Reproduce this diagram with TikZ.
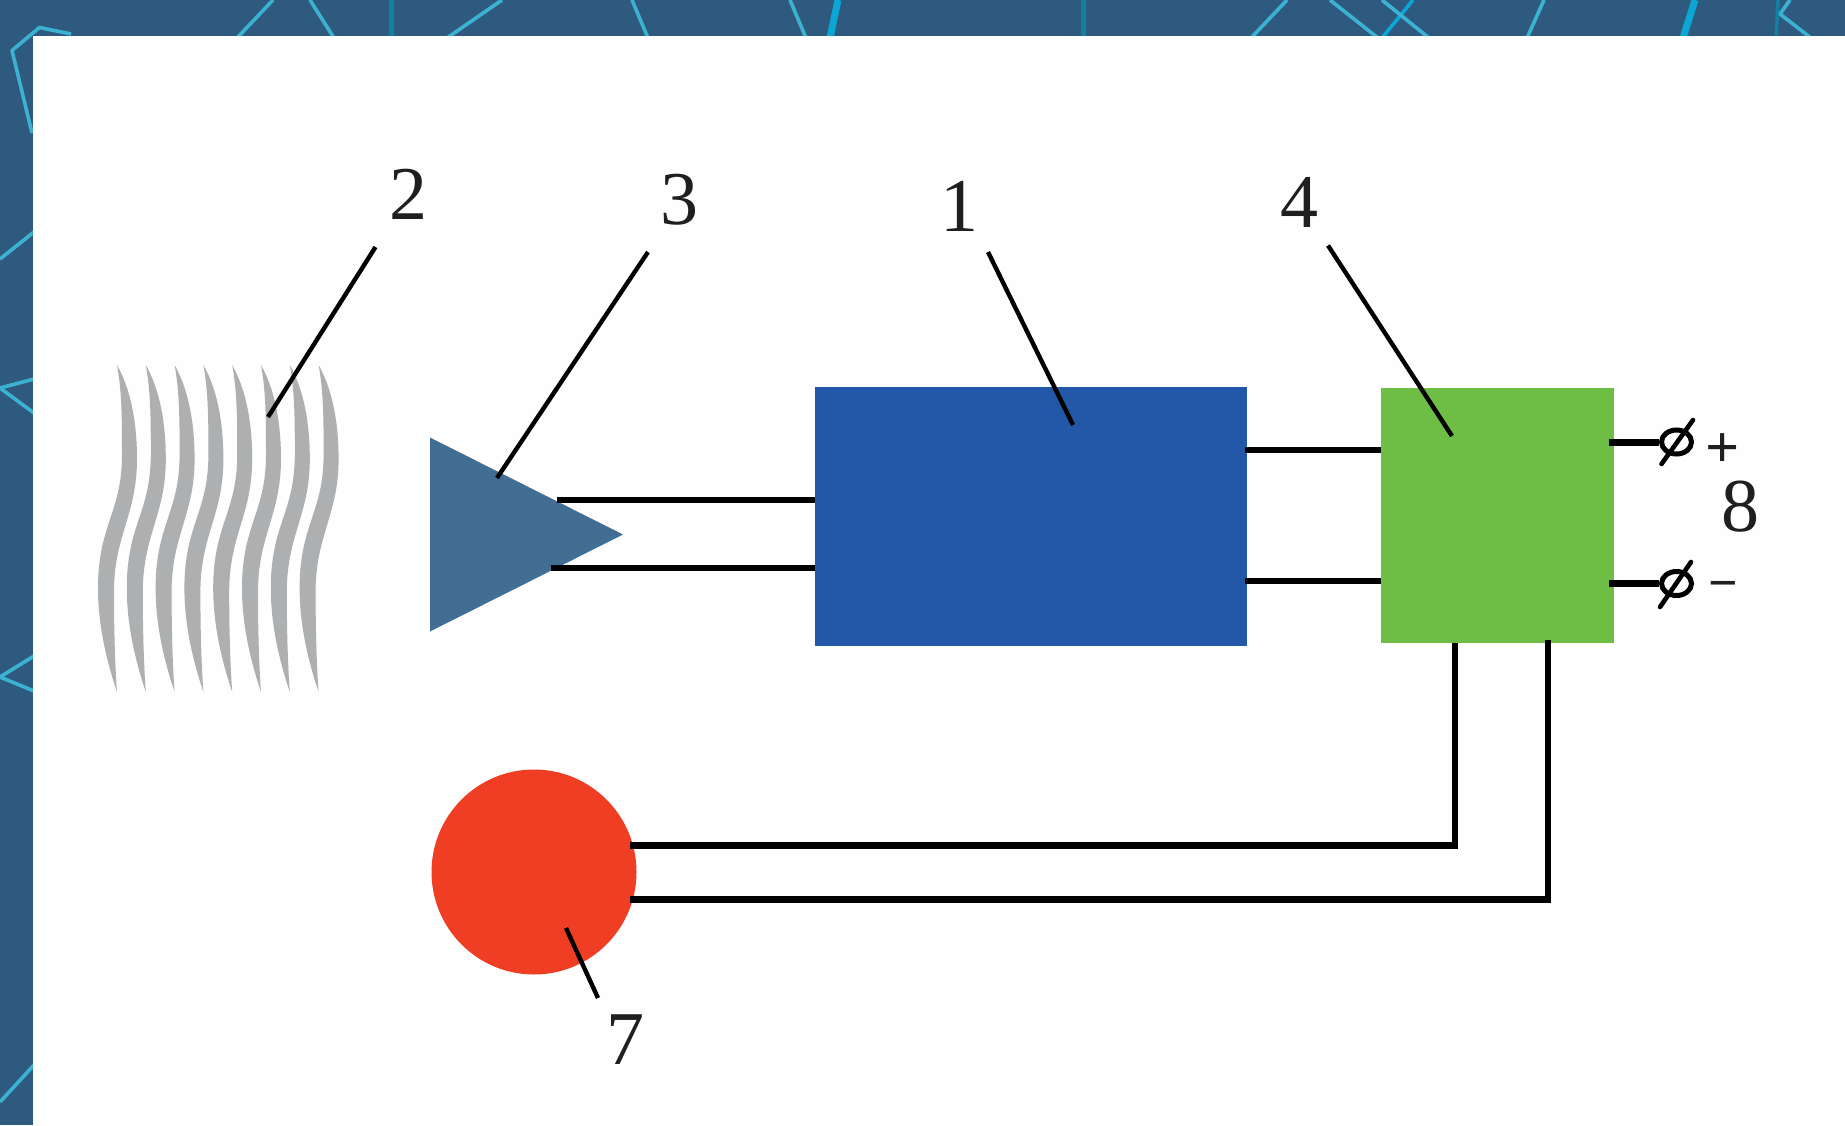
\documentclass[tikz,border=0pt]{standalone}
\usepackage{fontspec}
\setmainfont{Liberation Serif}
\usetikzlibrary{shapes.geometric}
\definecolor{bgblue}{HTML}{2F5A80}
\definecolor{netlight}{HTML}{3CB2D2}
\definecolor{netthick}{HTML}{0BA6D4}
\definecolor{netteal}{HTML}{12809F}
\definecolor{panel}{HTML}{FEFEFE}
\definecolor{waveg}{HTML}{ADAFB0}
\definecolor{trib}{HTML}{436E94}
\definecolor{rectb}{HTML}{2358A8}
\definecolor{rectg}{HTML}{6EBD44}
\definecolor{circr}{HTML}{F03E24}
\tikzset{
  netline/.style={draw=netlight,line width=3.6pt,line join=round},
  netwide/.style={draw=netthick,line width=7pt},
  netdark/.style={draw=netteal,line width=5pt},
  solid shape/.style={inner sep=0pt,outer sep=0pt,draw=none},
  leader/.style={draw=black,line width=4.4pt},
  wire/.style={draw=black,line width=6pt},
  wirethick/.style={draw=black,line width=6.5pt,line join=miter},
  termwire/.style={draw=black,line width=7pt},
  digit/.style={font=\fontsize{76}{80}\selectfont,text=black!88,inner sep=0pt},
  term/.style={ellipse,draw=black,line width=5pt,fill=white,minimum width=30pt,minimum height=24pt,inner sep=0pt},
  slash/.style={draw=black,line width=4.6pt,line cap=round},
  strand/.style={fill=waveg,draw=none}
}
\begin{document}
\begin{tikzpicture}[x=1pt,y=-1pt]
\useasboundingbox (0,0) rectangle (1845,1125);
% background
\fill[bgblue] (0,0) rectangle (1845,1125);
\draw[netline] (71,34) -- (39.5,27.5) -- (12,50.5) -- (32,133);
\draw[netline] (0,259) -- (34,232);
\draw[netline] (34,379) -- (0,388) -- (34,413);
\draw[netline] (34,656) -- (0,677) -- (34,691);
\draw[netline] (34,1065) -- (0,1102);
\draw[netline] (237,38) -- (273,0);
\draw[netline] (310,0) -- (334,38);
\draw[netdark] (391,0) -- (391,38);
\draw[netline] (447,38) -- (502,0);
\draw[netline] (648,38) -- (632,0);
\draw[netline] (806,38) -- (790,0);
\draw[netwide] (830,38) -- (838,0);
\draw[netdark] (1083,0) -- (1083,38);
\draw[netline] (1251,38) -- (1287,0);
\draw[netline] (1378,38) -- (1330,0);
\draw[netline,draw=netthick] (1382,38) -- (1413,0);
\draw[netline] (1429,38) -- (1382,0);
\draw[netline] (1527,38) -- (1544,0);
\draw[netwide] (1683,38) -- (1695,0);
\draw[netdark,line width=3.5pt] (1776,38) -- (1778,0);
\draw[netline] (1790,0) -- (1780,14) -- (1811,38);
% white panel
\fill[panel] (33,36) rectangle (1845,1125);
% heat waves
\foreach \sx in {0,28.8,57.6,86.4,115.2,144,172.8,201.6}{
  \fill[strand,shift={(117+\sx,0)}] (0,365)
    .. controls (13,388) and (20,420) .. (20,459)
    .. controls (20,515) and (-3,535) .. (-3,592)
    .. controls (-3,630) and (-2,665) .. (0,692)
    .. controls (-8,668) and (-19,630) .. (-19,588)
    .. controls (-19,525) and (5,512) .. (5,455)
    .. controls (5,420) and (5,392) .. (0,365) -- cycle;
}
% main shapes
\node[solid shape,isosceles triangle,isosceles triangle apex angle=53,isosceles triangle stretches,shape border rotate=0,minimum width=194pt,minimum height=193pt,fill=trib,anchor=lower side] (tri) at (430,534.5) {};
\node[solid shape,rectangle,fill=rectb,minimum width=432pt,minimum height=259pt] (blue) at (1031,516.5) {};
\node[solid shape,rectangle,fill=rectg,minimum width=232.5pt,minimum height=255.5pt] (green) at (1497.25,515.25) {};
\node[solid shape,circle,fill=circr,minimum size=205pt] (red) at (534,872) {};
% connector anchor points
\coordinate (t1) at (557,500);
\coordinate (t2) at (551,568);
\coordinate (bg1) at (1245,449.5);
\coordinate (bg2) at (1245,580.5);
\coordinate (r1) at (630,845.5);
\coordinate (r2) at (630,899.5);
\coordinate (g1) at (1455,643);
\coordinate (g2) at (1548,640);
\coordinate (o1) at (1609,442);
\coordinate (o2) at (1609,583.5);
% wires
\draw[wire] (t1) -- (t1 -| blue.west);
\draw[wire] (t2) -- (t2 -| blue.west);
\draw[wire] (bg1) -- (bg1 -| green.west);
\draw[wire] (bg2) -- (bg2 -| green.west);
\draw[wirethick] (g1) -- (g1 |- r1) -- (r1);
\draw[wirethick] (g2) -- (g2 |- r2) -- (r2);
% terminals
\node[term] (ta) at (1676.5,442) {};
\node[term] (tb) at (1676.5,583.5) {};
\draw[termwire] (o1) -- (ta.west);
\draw[termwire] (o2) -- (tb.west);
\coordinate (sa1) at (1661.5,464); \coordinate (sa2) at (1693,420);
\coordinate (sb1) at (1660,607); \coordinate (sb2) at (1691,562);
\draw[slash] (sa1) -- (sa2);
\draw[slash] (sb1) -- (sb2);
\node[inner sep=0pt,font=\fontsize{60}{62}\selectfont\bfseries,text=black!88] (plus) at (1723,451) {+};
\node[inner sep=0pt,font=\fontsize{52}{54}\selectfont\bfseries,text=black!88] (minus) at (1723,591) {−};
% labels
\node[digit] (n2) at (408,194) {2};
\node[digit] (n3) at (679,200) {3};
\node[digit] (n1) at (959,206) {1};
\node[digit] (n4) at (1299,202) {4};
\node[digit] (n7) at (625,1040) {7};
\node[digit] (n8) at (1740,507) {8};
% leaders
\coordinate (a2) at (375.5,247); \coordinate (b2) at (268,417);
\coordinate (a3) at (648,252);   \coordinate (b3) at (497,478);
\coordinate (a1) at (988,252);   \coordinate (b1) at (1073,425);
\coordinate (a4) at (1328,245.5);\coordinate (b4) at (1452,436);
\coordinate (a7) at (598,998);   \coordinate (b7) at (566,928);
\draw[leader] (a2) -- (b2);
\draw[leader] (a3) -- (b3);
\draw[leader] (a1) -- (b1);
\draw[leader] (a4) -- (b4);
\draw[leader] (a7) -- (b7);
\end{tikzpicture}
\end{document}
